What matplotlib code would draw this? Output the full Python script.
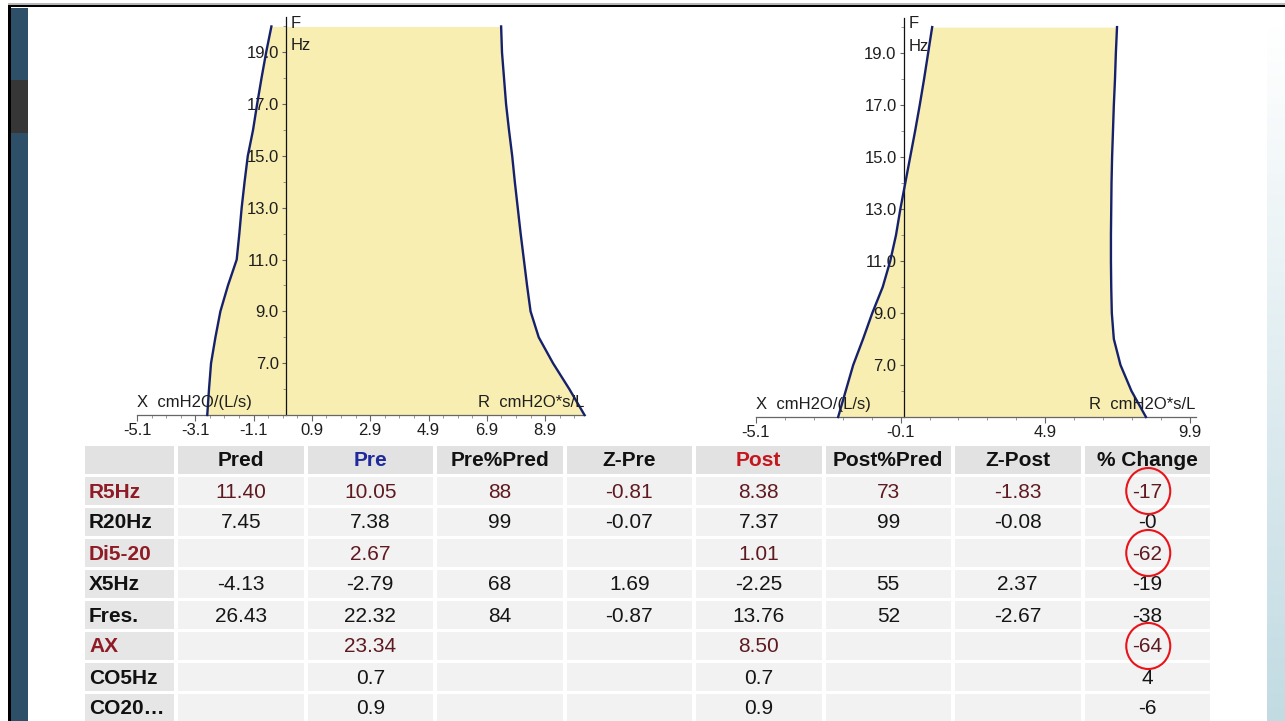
import numpy as np
import matplotlib
matplotlib.use("Agg")
import matplotlib.pyplot as plt
from matplotlib.patches import Rectangle, Ellipse
from matplotlib.colors import LinearSegmentedColormap

plt.rcParams['font.family'] = ['Liberation Sans', 'DejaVu Sans']

# oscillometry curves (F in Hz)
freq = [5, 6, 7, 8, 9, 10, 11, 12, 13, 14, 15, 16, 17, 18, 19, 20]
x_pre = [-2.69, -2.63, -2.56, -2.41, -2.24, -1.98, -1.68, -1.59, -1.51, -1.41,
         -1.30, -1.12, -0.98, -0.83, -0.67, -0.49]
r_pre = [10.25, 9.73, 9.17, 8.68, 8.40, 8.28, 8.17, 8.06, 7.96, 7.86,
         7.77, 7.66, 7.56, 7.49, 7.42, 7.39]
x_post = [-2.26, -2.00, -1.74, -1.40, -1.08, -0.72, -0.46, -0.26, -0.11, 0.06,
          0.23, 0.40, 0.56, 0.71, 0.85, 0.99]
r_post = [8.38, 7.88, 7.50, 7.27, 7.20, 7.18, 7.17, 7.17, 7.18, 7.19,
          7.21, 7.24, 7.27, 7.31, 7.34, 7.38]

left_xticks = [-5.1, -3.1, -1.1, 0.9, 2.9, 4.9, 6.9, 8.9]
right_xticks = [-5.1, -0.1, 4.9, 9.9]
f_ticks = [7, 9, 11, 13, 15, 17, 19]

# results table
col_headers = ["Pred", "Pre", "Pre%Pred", "Z-Pre", "Post", "Post%Pred", "Z-Post", "% Change"]
row_labels = ["R5Hz", "R20Hz", "Di5-20", "X5Hz", "Fres.", "AX", "CO5Hz", "CO20\u2026"]
pred = ["11.40", "7.45", "", "-4.13", "26.43", "", "", ""]
pre = ["10.05", "7.38", "2.67", "-2.79", "22.32", "23.34", "0.7", "0.9"]
pre_pct = ["88", "99", "", "68", "84", "", "", ""]
z_pre = ["-0.81", "-0.07", "", "1.69", "-0.87", "", "", ""]
post = ["8.38", "7.37", "1.01", "-2.25", "13.76", "8.50", "0.7", "0.9"]
post_pct = ["73", "99", "", "55", "52", "", "", ""]
z_post = ["-1.83", "-0.08", "", "2.37", "-2.67", "", "", ""]
pct_change = ["-17", "-0", "-62", "-19", "-38", "-64", "4", "-6"]
red_rows = [0, 2, 5]
circled_rows = [0, 2, 5]

FILL = '#f8eeb2'
CURVE = '#16216c'
TXT = '#1e1e1e'

fig = plt.figure(figsize=(12.85, 7.21), dpi=100)

# background layer in pixel units (slide frame + table)
bg = fig.add_axes([0, 0, 1, 1], zorder=0)
bg.set_xlim(0, 1285)
bg.set_ylim(721, 0)
bg.axis('off')

bg.add_patch(Rectangle((8, 3.2), 1277, 1.3, color='#b8b8b8', lw=0))
bg.add_patch(Rectangle((8, 4.8), 1277, 2.7, color='black', lw=0))
bg.add_patch(Rectangle((8, 4.8), 2.6, 717, color='black', lw=0))
bg.add_patch(Rectangle((10.6, 7.5), 17.4, 714, color='#2d5068', lw=0))
bg.add_patch(Rectangle((10.6, 80), 17.4, 53, color='#363636', lw=0))
grad_cmap = LinearSegmentedColormap.from_list('strip', ['#ffffff', '#c2dbe3'])
bg.imshow(np.linspace(0, 1, 100)[:, None], extent=[1267, 1285, 721, 20],
          cmap=grad_cmap, aspect='auto', zorder=1)
bg.set_xlim(0, 1285)
bg.set_ylim(721, 0)

# table layout
label_left, label_w = 85, 89
col_left0, col_pitch, col_w = 178, 129.5, 125.5
row_top0, row_pitch, row_h = 446, 31, 28

columns = [pred, pre, pre_pct, z_pre, post, post_pct, z_post, pct_change]
header_colors = {"Pre": '#1f2a9c', "Post": '#c4161c'}

# header row
bg.add_patch(Rectangle((label_left, row_top0), label_w, row_h, color='#e2e2e2', lw=0))
for j, name in enumerate(col_headers):
    x0 = col_left0 + j * col_pitch
    bg.add_patch(Rectangle((x0, row_top0), col_w, row_h, color='#e2e2e2', lw=0))
    bg.text(x0 + col_w / 2, row_top0 + row_h / 2 + 1, name, ha='center', va='center',
            fontsize=15, fontweight='bold', color=header_colors.get(name, '#111111'))

for i, lab in enumerate(row_labels):
    y0 = row_top0 + (i + 1) * row_pitch
    yc = y0 + row_h / 2 + 1
    is_red = i in red_rows
    bg.add_patch(Rectangle((label_left, y0), label_w, row_h, color='#e6e6e6', lw=0))
    bg.text(label_left + 4, yc, lab, ha='left', va='center', fontsize=15,
            fontweight='bold', color='#8e1b25' if is_red else '#111111')
    for j, col in enumerate(columns):
        x0 = col_left0 + j * col_pitch
        bg.add_patch(Rectangle((x0, y0), col_w, row_h, color='#f2f2f2', lw=0))
        bg.text(x0 + col_w / 2, yc, col[i], ha='center', va='center', fontsize=15,
                color='#5e1a20' if is_red else '#151515')
    if i in circled_rows:
        xc = col_left0 + 7 * col_pitch + col_w / 2 + 1
        bg.add_patch(Ellipse((xc, yc - 1), 44, 46, fill=False, ec='#e8141a', lw=1.5, zorder=5))


def draw_panel(rect, xlim, xticks, minor_step, x_vals, r_vals):
    ax = fig.add_axes(rect, zorder=2)
    ax.patch.set_alpha(0)
    ax.fill_betweenx(freq, x_vals, r_vals, color=FILL, lw=0, zorder=1)
    ax.plot(x_vals, freq, color=CURVE, lw=1.7, zorder=3, clip_on=False)
    ax.plot(r_vals, freq, color=CURVE, lw=1.7, zorder=3, clip_on=False)
    ax.set_xlim(*xlim)
    ax.set_ylim(5, 20.35)
    for s in ['top', 'right']:
        ax.spines[s].set_visible(False)
    ax.spines['left'].set_position(('data', 0))
    ax.spines['left'].set_color('#111111')
    ax.spines['left'].set_linewidth(0.9)
    ax.spines['left'].set_zorder(2)
    ax.spines['bottom'].set_color('#666666')
    ax.spines['bottom'].set_linewidth(0.9)
    ax.set_xticks(xticks)
    ax.set_xticklabels(['%.1f' % v for v in xticks])
    ax.set_xticks(np.arange(xticks[0], xlim[1], minor_step), minor=True)
    ax.set_yticks(f_ticks)
    ax.set_yticklabels(['%.1f' % v for v in f_ticks])
    ax.set_yticks(range(6, 21), minor=True)
    ax.tick_params(axis='both', which='major', labelsize=12, labelcolor=TXT,
                   color='#666666', direction='out', length=4, width=0.8)
    ax.tick_params(axis='x', which='major', pad=2)
    ax.tick_params(axis='y', which='major', pad=2, length=3)
    ax.tick_params(axis='both', which='minor', color='#888888', length=2, width=0.6)
    ax.text(xlim[0], 5.3, 'X  cmH2O/(L/s)', ha='left', va='baseline', fontsize=12, color=TXT)
    ax.text(xlim[1], 5.3, 'R  cmH2O*s/L', ha='right', va='baseline', fontsize=12, color=TXT)
    ax.text(0.17, 20.13, 'F', ha='left', va='center', fontsize=12, color=TXT)
    ax.text(0.17, 19.25, 'Hz', ha='left', va='center', fontsize=12, color=TXT)
    return ax


draw_panel([137 / 1285, (721 - 415) / 721, 447.5 / 1285, (415 - 17.4) / 721],
           (-5.1, 10.25), left_xticks, 0.5, x_pre, r_pre)
draw_panel([756 / 1285, (721 - 417) / 721, 439.7 / 1285, (417 - 18) / 721],
           (-5.1, 10.1), right_xticks, 1.0, x_post, r_post)

fig.savefig('out.png', dpi=100)
